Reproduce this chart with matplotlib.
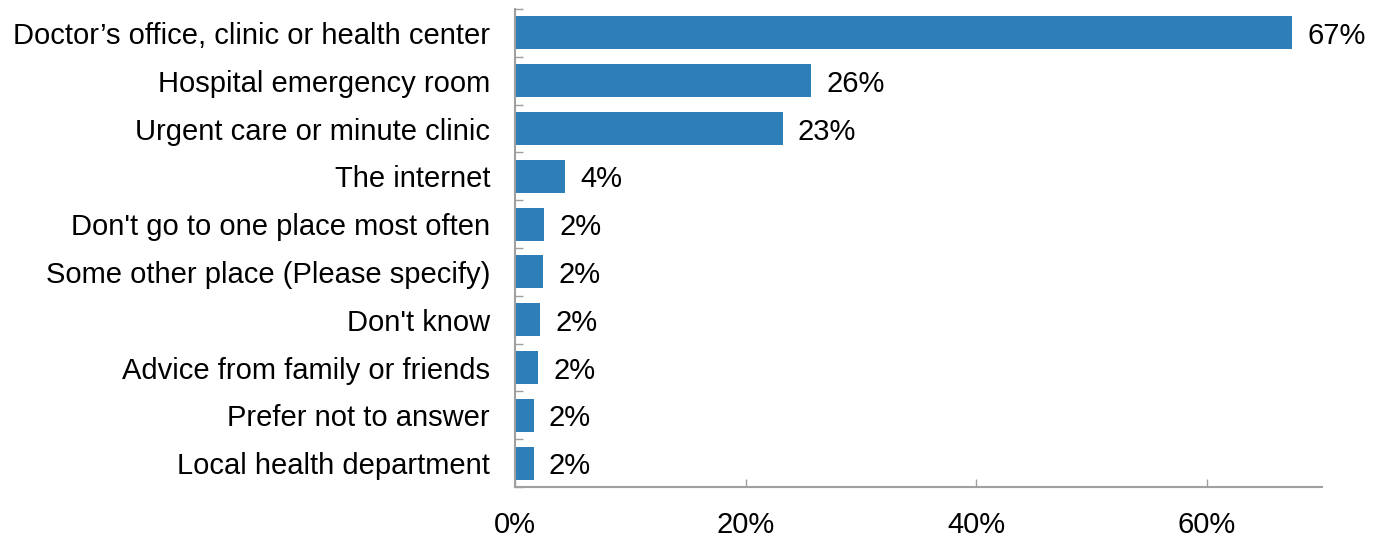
import numpy as np
import matplotlib.pyplot as plt
from matplotlib.ticker import FixedLocator, PercentFormatter

plt.rcParams['font.family'] = ['Liberation Sans', 'DejaVu Sans']

# data (top to bottom)
categories = [
    "Doctor\u2019s office, clinic or health center",
    "Hospital emergency room",
    "Urgent care or minute clinic",
    "The internet",
    "Don't go to one place most often",
    "Some other place (Please specify)",
    "Don't know",
    "Advice from family or friends",
    "Prefer not to answer",
    "Local health department",
]
shares = [67.4, 25.7, 23.2, 4.3, 2.5, 2.4, 2.2, 2.0, 1.6, 1.6]
share_labels = ["67%", "26%", "23%", "4%", "2%", "2%", "2%", "2%", "2%", "2%"]
x_ticks = [0, 20, 40, 60]

bar_color = '#2e7eb8'
axis_gray = '#a0a0a0'
fs = 21

fig = plt.figure(figsize=(13.79, 5.37), dpi=100)
ax = fig.add_axes([0.3735, 0.0931, 0.5852, 0.8901])

y = np.arange(len(categories))
bars = ax.barh(y, shares, height=0.69, color=bar_color)

for b, lab in zip(bars, share_labels):
    ax.annotate(lab, (b.get_width(), b.get_y() + b.get_height() / 2),
                xytext=(11, 0), textcoords='offset points',
                va='center_baseline', ha='left', fontsize=fs, color='black')

ax.set_ylim(len(categories) - 0.5, -0.5)
ax.set_xlim(0, 70)

ax.set_yticks(y)
ax.set_yticklabels(categories, fontsize=fs)
ax.yaxis.set_minor_locator(FixedLocator(np.arange(-0.5, len(categories), 1)))
ax.tick_params(axis='y', which='major', length=0, pad=18)
ax.tick_params(axis='y', which='minor', direction='in', length=6, width=1, color=axis_gray)

ax.set_xticks(x_ticks)
ax.xaxis.set_major_formatter(PercentFormatter(decimals=0))
ax.tick_params(axis='x', direction='in', length=6, width=1, color=axis_gray,
               labelsize=fs, pad=17)

for side in ['top', 'right']:
    ax.spines[side].set_visible(False)
for side in ['left', 'bottom']:
    ax.spines[side].set_color(axis_gray)
    ax.spines[side].set_linewidth(1.5)

fig.savefig('out.png', dpi=100)
